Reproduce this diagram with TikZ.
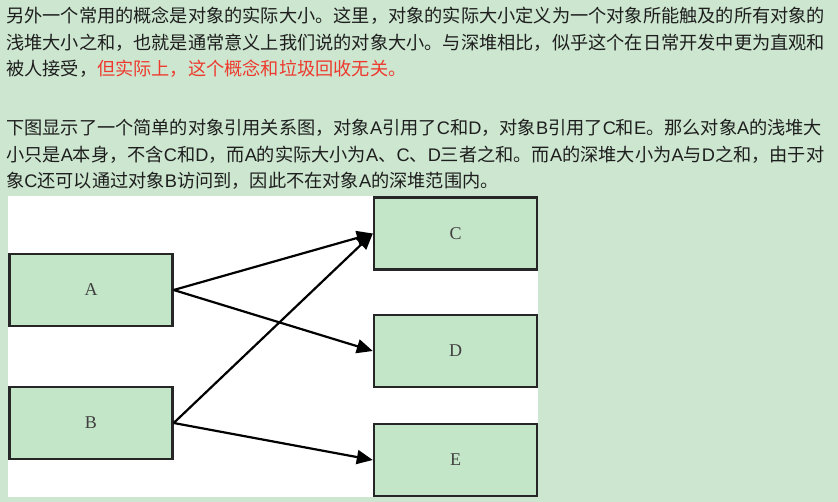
\documentclass[tikz,border=0pt]{standalone}
\usepackage{fontspec}
\setmainfont{Liberation Serif}
\newfontfamily\cjk{Noto Sans CJK SC}
\newfontfamily\lat{Liberation Sans}
\usetikzlibrary{arrows.meta}
\definecolor{pagegreen}{RGB}{204,230,207}
\definecolor{objgreen}{RGB}{196,230,200}
\definecolor{notered}{RGB}{238,58,46}
\definecolor{inkgray}{RGB}{30,30,30}
\newcommand\la[1]{{\lat #1}}
\begin{document}
\begin{tikzpicture}[x=1pt,y=-1pt,
    line/.style={anchor=west,inner sep=0pt,text=inkgray,font=\cjk\fontsize{18.2}{22}\selectfont},
    obj/.style={draw=black!85,line width=2.4pt,fill=objgreen,minimum width=163pt,minimum height=72pt,inner sep=0pt,font=\fontsize{18}{20}\selectfont,text=black!75},
    ref/.style={line width=2.2pt,-{Triangle[length=16pt,width=14pt]}}]
      \fill[pagegreen] (0,0) rectangle (838,502);
      \fill[white] (8,196) rectangle (538,497);
      \path
        (6,16) node[line] (p1){另外一个常用的概念是对象的实际大小。这里，对象的实际大小定义为一个对象所能触及的所有对象的}
        (6,43) node[line] (p2){浅堆大小之和，也就是通常意义上我们说的对象大小。与深堆相比，似乎这个在日常开发中更为直观和}
        (6,69) node[line] (p3){被人接受，\textcolor{notered}{但实际上，这个概念和垃圾回收无关。}}
        (6,128) node[line] (q1){下图显示了一个简单的对象引用关系图，对象\la{A}引用了\la{C}和\la{D}，对象\la{B}引用了\la{C}和\la{E}。那么对象\la{A}的浅堆大}
        (6,155) node[line] (q2){小只是\la{A}本身，不含\la{C}和\la{D}，而\la{A}的实际大小为\la{A}、\la{C}、\la{D}三者之和。而\la{A}的深堆大小为\la{A}与\la{D}之和，由于对}
        (6,181) node[line] (q3){象\la{C}还可以通过对象\la{B}访问到，因此不在对象\la{A}的深堆范围内。};
      \draw
        (91,290) node[obj] (A){A}
        (91,423) node[obj] (B){B}
        (455.5,233.5) node[obj] (C){C}
        (455.5,351) node[obj] (D){D}
        (455.5,460) node[obj] (E){E};
      \begin{scope}[ref]
        \draw (A.east) to (C.west);
        \draw (A.east) to (D.west);
        \draw (B.east) to (C.west);
        \draw (B.east) to (E.west);
      \end{scope}
    \end{tikzpicture}
\end{document}
